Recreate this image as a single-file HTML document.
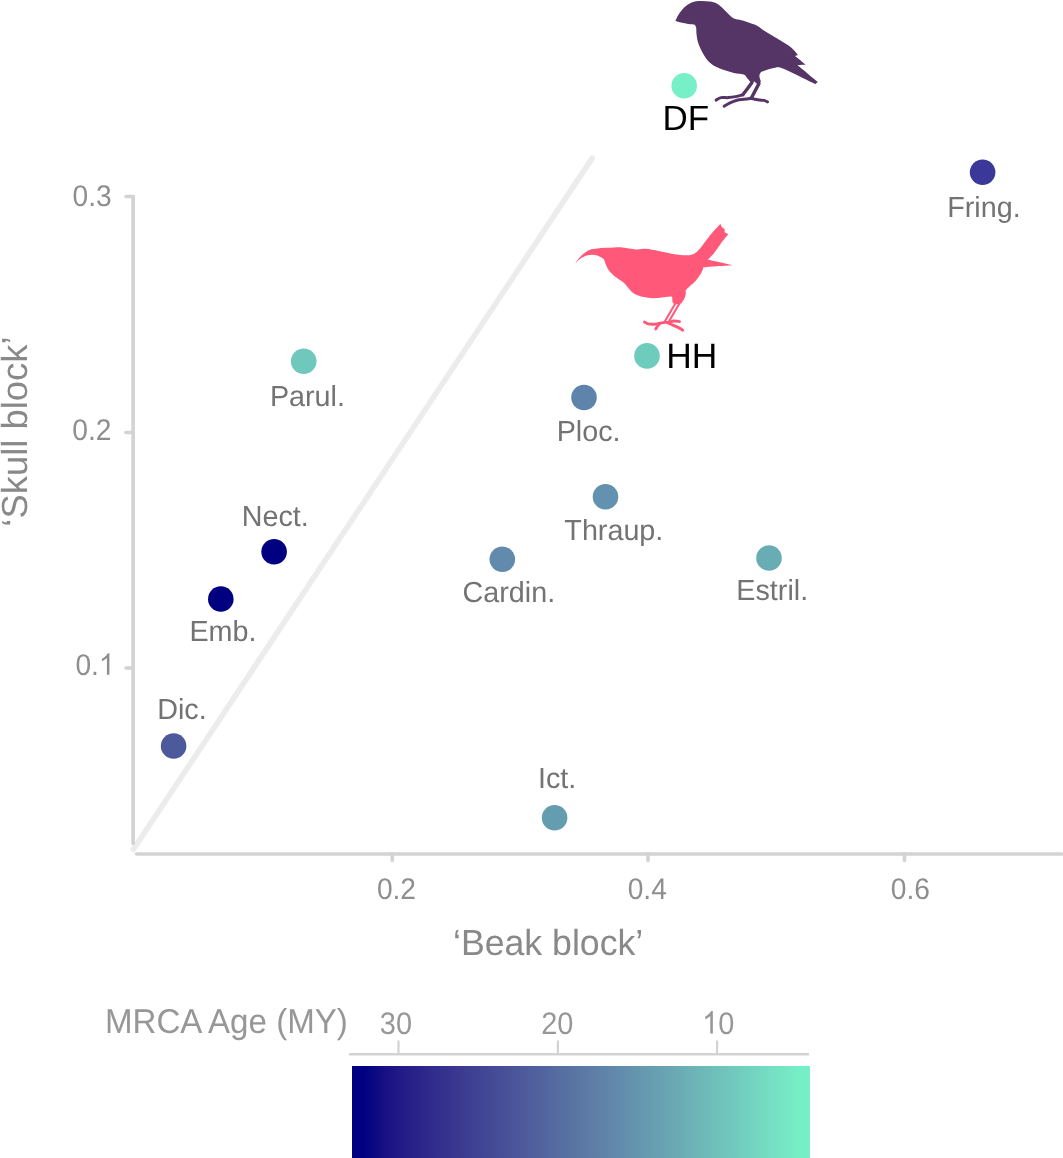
<!DOCTYPE html>
<html><head><meta charset="utf-8"><style>
html,body{margin:0;padding:0;background:#fff;}
body{width:1063px;height:1158px;overflow:hidden;position:relative;}
svg{position:absolute;left:0;top:0;}
text{font-family:"Liberation Sans",sans-serif;text-rendering:geometricPrecision;}
svg{will-change:transform;}
</style></head><body>
<svg width="1063" height="1158" viewBox="0 0 1063 1158">
<line x1="133.3" y1="849.5" x2="592.2" y2="158.1" stroke="#ececec" stroke-width="5.6" stroke-linecap="round"/>
<line x1="133.1" y1="196.5" x2="133.1" y2="843.5" stroke="#d3d3d3" stroke-width="3.6" stroke-linecap="round"/>
<line x1="126" y1="196.5" x2="133" y2="196.5" stroke="#d3d3d3" stroke-width="3.6" stroke-linecap="round"/>
<line x1="126" y1="432.5" x2="133" y2="432.5" stroke="#d3d3d3" stroke-width="3.6" stroke-linecap="round"/>
<line x1="126" y1="668.0" x2="133" y2="668.0" stroke="#d3d3d3" stroke-width="3.6" stroke-linecap="round"/>
<line x1="136.5" y1="854" x2="1061.5" y2="854" stroke="#d3d3d3" stroke-width="3.6" stroke-linecap="round"/>
<line x1="392.3" y1="854" x2="392.3" y2="860.5" stroke="#d3d3d3" stroke-width="3.6" stroke-linecap="round"/>
<line x1="648.0" y1="854" x2="648.0" y2="860.5" stroke="#d3d3d3" stroke-width="3.6" stroke-linecap="round"/>
<line x1="904.5" y1="854" x2="904.5" y2="860.5" stroke="#d3d3d3" stroke-width="3.6" stroke-linecap="round"/>
<circle cx="684.2" cy="85.8" r="12.8" fill="#77efc7"/>
<circle cx="647.0" cy="355.9" r="12.8" fill="#6dccbb"/>
<circle cx="303.7" cy="361.3" r="12.8" fill="#70c8bc"/>
<circle cx="982.6" cy="172.3" r="12.8" fill="#3a399a"/>
<circle cx="584.0" cy="397.5" r="12.8" fill="#5e84ab"/>
<circle cx="605.5" cy="496.8" r="12.8" fill="#6292af"/>
<circle cx="502.3" cy="559.2" r="12.8" fill="#618aac"/>
<circle cx="769.0" cy="558.0" r="12.8" fill="#68acb4"/>
<circle cx="554.6" cy="817.7" r="12.8" fill="#649cb0"/>
<circle cx="274.1" cy="551.7" r="12.8" fill="#000080"/>
<circle cx="220.8" cy="599.0" r="12.8" fill="#000080"/>
<circle cx="173.6" cy="746.0" r="12.8" fill="#4c599b"/>
<path d="M675.4 20.9 C675.9 19.9 677.1 17.0 678.3 15.0 C679.5 13.0 681.0 10.8 682.8 9.0 C684.5 7.2 686.8 5.3 688.8 4.1 C690.8 2.8 692.5 2.0 694.8 1.5 C697.1 1.0 699.9 0.9 702.4 0.9 C704.9 0.9 707.5 1.1 709.9 1.5 C712.3 1.9 714.8 2.5 716.7 3.4 C718.6 4.3 719.7 5.5 721.2 6.8 C722.7 8.1 724.2 9.8 725.7 11.3 C727.2 12.8 728.7 14.6 730.2 15.8 C731.7 17.1 732.8 18.1 734.7 18.8 C736.6 19.6 739.0 19.6 741.5 20.3 C744.0 21.0 747.3 22.1 750.0 23.0 C752.7 23.9 755.0 24.6 757.5 26.0 C760.0 27.4 762.5 29.7 765.0 31.3 C767.5 32.9 770.1 34.3 772.6 35.8 C775.1 37.3 777.9 38.9 780.1 40.3 C782.4 41.7 784.2 42.9 786.1 44.1 C788.0 45.4 789.9 46.5 791.4 47.8 C792.9 49.0 794.0 50.4 795.1 51.6 C796.2 52.8 797.3 54.4 797.8 55.0 C797.3 55.2 795.5 55.9 795.1 56.1 C796.9 57.5 803.9 63.3 805.7 64.8 C804.3 64.8 798.8 65.0 797.4 65.1 C800.8 67.9 814.3 79.3 817.7 82.1 C817.3 82.4 815.9 83.7 815.5 84.0 C813.4 83.0 806.6 79.8 802.7 77.9 C798.8 76.0 795.9 74.5 792.1 72.7 C788.3 71.0 783.4 68.2 780.1 67.4 C776.9 66.7 775.1 67.7 772.6 68.2 C770.1 68.7 767.0 69.7 765.0 70.4 C763.0 71.2 761.4 71.7 760.5 72.7 C759.6 73.7 759.3 75.0 759.4 76.4 C759.5 77.9 760.6 80.6 760.9 81.4 C760.4 82.0 758.5 84.4 758.0 85.0 C757.4 84.4 755.1 82.1 754.5 81.5 C753.8 81.6 751.2 82.2 750.5 82.3 C749.9 81.5 747.9 78.9 746.7 77.6 C745.6 76.3 745.7 75.3 743.6 74.6 C741.5 73.8 737.1 73.8 733.9 73.1 C730.6 72.3 727.2 71.2 724.1 70.1 C721.0 69.0 717.6 67.7 715.0 66.3 C712.4 64.9 710.4 63.4 708.6 61.6 C706.8 59.8 705.4 57.5 704.2 55.6 C703.0 53.7 702.1 51.9 701.3 50.2 C700.4 48.5 699.8 47.2 699.1 45.5 C698.5 43.8 697.8 41.8 697.4 39.9 C697.0 38.0 696.7 35.9 696.5 33.9 C696.3 31.8 696.4 29.1 696.1 27.6 C695.8 26.1 695.0 25.3 694.8 24.8 C693.8 24.7 691.0 24.5 688.8 24.1 C686.5 23.7 683.5 23.1 681.3 22.6 C679.1 22.1 676.4 21.2 675.4 20.9Z" fill="#553466"/>
<path d="M752.0 82.5 C750.5 84.5 744.3 92.8 742.8 94.8" fill="none" stroke="#553466" stroke-width="3.4" stroke-linecap="round" stroke-linejoin="round"/>
<path d="M759.0 83.5 C757.7 86.0 752.5 95.8 751.2 98.2" fill="none" stroke="#553466" stroke-width="3.4" stroke-linecap="round" stroke-linejoin="round"/>
<path d="M742.8 94.8 C741.6 95.1 737.9 96.1 735.5 96.6 C733.1 97.1 730.7 97.4 728.3 97.6 C725.9 97.8 723.0 97.2 721.0 97.6 C719.0 98.0 716.9 99.7 716.1 100.1" fill="none" stroke="#553466" stroke-width="3.0" stroke-linecap="round" stroke-linejoin="round"/>
<path d="M751.2 98.2 C750.0 98.4 746.4 99.0 744.0 99.3 C741.6 99.6 739.3 99.6 737.0 100.2 C734.7 100.8 732.1 101.8 730.0 102.8 C727.9 103.8 725.1 105.6 724.1 106.2" fill="none" stroke="#553466" stroke-width="3.0" stroke-linecap="round" stroke-linejoin="round"/>
<path d="M751.2 98.2 C752.3 98.5 755.9 99.4 758.0 99.8 C760.1 100.2 762.4 100.1 764.0 100.4 C765.6 100.8 766.9 101.7 767.5 101.9" fill="none" stroke="#553466" stroke-width="3.0" stroke-linecap="round" stroke-linejoin="round"/>
<path d="M575.1 263.9 C575.7 263.0 577.1 260.5 578.5 258.8 C579.9 257.1 581.7 255.2 583.5 253.7 C585.3 252.2 587.2 250.8 589.5 249.9 C591.8 249.0 594.4 248.8 597.1 248.5 C599.8 248.2 602.8 248.0 605.6 247.8 C608.4 247.6 611.2 247.5 614.0 247.4 C616.8 247.3 620.0 247.2 622.5 247.4 C625.0 247.6 627.0 248.2 629.3 248.6 C631.5 248.9 633.3 249.5 636.0 249.5 C638.7 249.5 641.8 248.4 645.6 248.7 C649.4 248.9 654.2 250.1 658.8 251.0 C663.3 251.9 668.2 253.2 672.9 253.9 C677.6 254.6 683.4 255.4 687.0 255.3 C690.6 255.2 692.4 254.6 694.6 253.4 C696.8 252.2 697.7 251.1 700.2 248.2 C702.7 245.3 706.2 240.1 709.6 236.0 C713.0 231.9 718.6 225.8 720.4 223.8 C720.6 224.4 721.6 226.6 721.8 227.1 C722.3 227.5 724.2 229.0 724.7 229.4 C724.7 229.9 724.7 231.7 724.7 232.2 C725.3 232.5 727.8 233.8 728.4 234.1 C727.1 235.7 723.4 240.2 720.9 243.5 C718.4 246.8 715.6 251.2 713.4 253.9 C711.2 256.6 708.7 258.6 707.7 259.5 C711.9 260.4 728.5 264.2 732.7 265.2 C730.6 265.4 722.1 266.0 720.0 266.1 C717.3 266.3 706.8 267.0 704.0 267.5 C701.2 268.0 703.6 267.7 703.0 268.9 C702.4 270.1 701.5 272.6 700.2 274.6 C699.0 276.6 697.2 279.2 695.5 281.1 C693.8 283.0 691.6 284.6 690.0 286.1 C688.4 287.7 686.5 289.2 685.8 290.4 C685.1 291.6 686.0 292.2 685.8 293.5 C685.6 294.8 685.2 296.7 684.5 298.3 C683.8 299.9 682.0 302.4 681.5 303.2 C680.8 303.4 677.8 304.3 677.0 304.5 C676.3 304.3 673.6 303.4 672.9 303.2 C672.8 302.7 672.5 301.3 672.3 300.2 C672.1 299.1 672.8 297.3 671.7 296.8 C670.6 296.3 668.7 296.9 665.6 297.1 C662.5 297.4 657.4 298.4 653.3 298.3 C649.2 298.2 644.1 297.2 641.1 296.5 C638.1 295.8 636.7 295.0 635.0 294.1 C633.3 293.2 632.4 292.4 631.0 291.0 C629.6 289.6 628.1 287.4 626.7 285.9 C625.3 284.3 624.5 283.2 622.5 281.7 C620.5 280.1 617.1 278.5 614.9 276.6 C612.6 274.8 610.5 272.7 609.0 270.6 C607.5 268.5 606.5 265.7 605.6 263.9 C604.8 262.1 604.8 260.7 603.9 259.6 C603.0 258.5 602.0 257.9 600.5 257.1 C599.0 256.3 596.9 255.3 594.6 255.0 C592.3 254.7 589.3 254.8 586.9 255.4 C584.5 256.0 582.2 257.4 580.2 258.8 C578.2 260.2 576.0 263.0 575.1 263.9Z" fill="#ff5879"/>
<path d="M675.0 304.0 C673.3 306.9 666.5 318.6 664.8 321.5" fill="none" stroke="#ff5879" stroke-width="2.0" stroke-linecap="round" stroke-linejoin="round"/>
<path d="M679.5 303.5 C677.7 306.6 670.4 318.9 668.6 322.0" fill="none" stroke="#ff5879" stroke-width="2.0" stroke-linecap="round" stroke-linejoin="round"/>
<path d="M644.5 322.0 C645.1 322.3 646.4 323.4 648.0 323.8 C649.6 324.2 652.0 324.3 654.0 324.2 C656.0 324.1 658.2 323.5 660.0 323.2 C661.8 322.9 663.5 322.5 665.0 322.4 C666.5 322.3 668.3 322.4 669.0 322.4" fill="none" stroke="#ff5879" stroke-width="2.9" stroke-linecap="round" stroke-linejoin="round"/>
<path d="M669.0 322.4 C669.8 322.2 672.2 321.1 674.0 321.0 C675.8 320.9 678.6 321.5 679.5 321.6" fill="none" stroke="#ff5879" stroke-width="2.9" stroke-linecap="round" stroke-linejoin="round"/>
<path d="M668.0 323.0 C669.0 323.4 672.2 324.8 674.0 325.6 C675.8 326.4 677.5 327.1 679.0 327.9 C680.5 328.7 682.1 329.8 682.7 330.2" fill="none" stroke="#ff5879" stroke-width="2.9" stroke-linecap="round" stroke-linejoin="round"/>
<path d="M659.5 323.6 C659.1 324.1 657.9 325.6 657.3 326.5 C656.7 327.4 656.0 328.5 655.8 328.9" fill="none" stroke="#ff5879" stroke-width="2.9" stroke-linecap="round" stroke-linejoin="round"/>
<text transform="translate(241.78 525.90) scale(0.9900 1)" font-size="29.00" fill="#737373">Nect.</text>
<text transform="translate(189.38 641.00) scale(0.9900 1)" font-size="29.00" fill="#737373">Emb.</text>
<text transform="translate(157.26 718.80) scale(0.9900 1)" font-size="29.00" fill="#737373">Dic.</text>
<text transform="translate(269.93 406.10) scale(0.9900 1)" font-size="29.00" fill="#737373">Parul.</text>
<text transform="translate(556.67 441.00) scale(0.9900 1)" font-size="29.00" fill="#737373">Ploc.</text>
<text transform="translate(564.37 539.50) scale(0.9900 1)" font-size="29.00" fill="#737373">Thraup.</text>
<text transform="translate(462.61 602.10) scale(0.9900 1)" font-size="29.00" fill="#737373">Cardin.</text>
<text transform="translate(736.35 599.80) scale(0.9900 1)" font-size="29.00" fill="#737373">Estril.</text>
<text transform="translate(537.94 788.00) scale(0.9900 1)" font-size="29.00" fill="#737373">Ict.</text>
<text transform="translate(947.24 216.90) scale(0.9900 1)" font-size="29.00" fill="#737373">Fring.</text>
<text transform="translate(666.28 367.50) scale(1.0000 1)" font-size="35.40" fill="#000">HH</text>
<text transform="translate(662.59 129.60) scale(1.0000 1)" font-size="35.00" fill="#000">DF</text>
<text transform="translate(72.48 206.10) scale(0.9420 1)" font-size="29.90" fill="#8e8e8e">0.3</text>
<text transform="translate(72.36 439.80) scale(0.9420 1)" font-size="29.90" fill="#8e8e8e">0.2</text>
<text transform="translate(75.40 674.80) scale(0.9420 1)" font-size="29.90" fill="#8e8e8e">0.</text>
<path d="M109.40 674.80L106.92 674.80L106.92 658.06C106.02 658.95 104.56 659.85 103.12 660.75C102.70 660.99 102.27 661.14 101.96 661.23L101.96 658.68C104.05 657.64 105.60 656.17 106.64 654.92C107.12 654.32 107.51 653.78 107.79 653.30L109.40 653.30Z" fill="#8e8e8e"/>
<text transform="translate(376.88 898.60) scale(0.9420 1)" font-size="29.90" fill="#8e8e8e">0.2</text>
<text transform="translate(627.69 898.60) scale(0.9420 1)" font-size="29.90" fill="#8e8e8e">0.4</text>
<text transform="translate(890.79 898.60) scale(0.9420 1)" font-size="29.90" fill="#8e8e8e">0.6</text>
<text transform="translate(453.02 954.60) scale(0.9850 1)" font-size="36.20" fill="#898989">‘Beak block’</text>
<g transform="translate(27.2 431.5) rotate(-90)"><text transform="translate(-95.22 0.00) scale(1.0070 1)" font-size="36.20" fill="#898989">‘Skull block’</text></g>
<text transform="translate(104.95 1033.10) scale(0.9630 1)" font-size="34.40" fill="#979797">MRCA Age (MY)</text>
<text transform="translate(379.86 1034.00) scale(0.9250 1)" font-size="31.30" fill="#979797">30</text>
<line x1="398.5" y1="1040.5" x2="398.5" y2="1054" stroke="#d3d3d3" stroke-width="2.2"/>
<text transform="translate(541.14 1033.70) scale(0.9250 1)" font-size="31.30" fill="#979797">20</text>
<line x1="557.9" y1="1040.5" x2="557.9" y2="1054" stroke="#d3d3d3" stroke-width="2.2"/>
<path d="M712.84 1033.50L710.29 1033.50L710.29 1015.97C709.36 1016.91 707.86 1017.85 706.38 1018.79C705.95 1019.04 705.51 1019.20 705.19 1019.29L705.19 1016.63C707.34 1015.53 708.93 1014.00 710.00 1012.69C710.49 1012.06 710.90 1011.50 711.19 1011.00L712.84 1011.00Z" fill="#979797"/>
<text transform="translate(718.14 1033.50) scale(0.9250 1)" font-size="31.30" fill="#979797">0</text>
<line x1="717.1" y1="1040.5" x2="717.1" y2="1054" stroke="#d3d3d3" stroke-width="2.2"/>
<line x1="349" y1="1054.3" x2="809" y2="1054.3" stroke="#d3d3d3" stroke-width="2.6"/>
<defs><linearGradient id="g" x1="0" y1="0" x2="1" y2="0"><stop offset="0.0250" stop-color="#000080"/><stop offset="0.0750" stop-color="#191184"/><stop offset="0.1250" stop-color="#261f88"/><stop offset="0.1750" stop-color="#302b8c"/><stop offset="0.2250" stop-color="#393790"/><stop offset="0.2750" stop-color="#404394"/><stop offset="0.3250" stop-color="#474e98"/><stop offset="0.3750" stop-color="#4d5a9c"/><stop offset="0.4250" stop-color="#5366a0"/><stop offset="0.4750" stop-color="#5872a3"/><stop offset="0.5250" stop-color="#5d7da7"/><stop offset="0.5750" stop-color="#6189ab"/><stop offset="0.6250" stop-color="#6596ae"/><stop offset="0.6750" stop-color="#68a2b2"/><stop offset="0.7250" stop-color="#6caeb5"/><stop offset="0.7750" stop-color="#6ebbb9"/><stop offset="0.8250" stop-color="#71c7bc"/><stop offset="0.8750" stop-color="#73d4c0"/><stop offset="0.9250" stop-color="#75e1c3"/><stop offset="0.9750" stop-color="#76eec6"/></linearGradient></defs>
<rect x="352" y="1066" width="458" height="92" fill="url(#g)"/>
</svg>
</body></html>
